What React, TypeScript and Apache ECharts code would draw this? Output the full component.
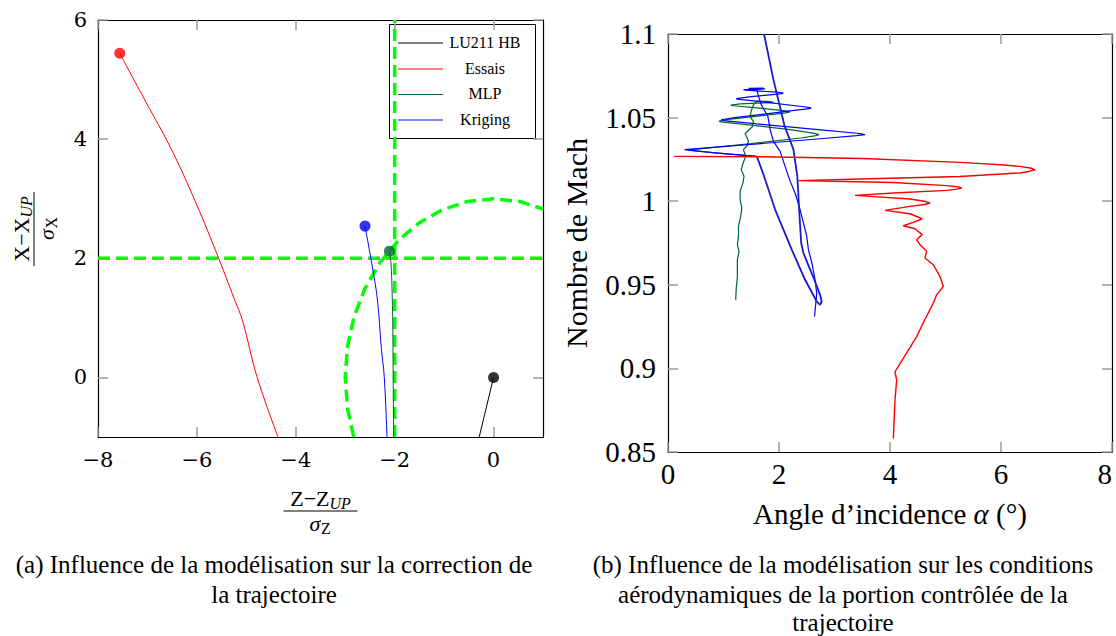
import React, { useEffect, useRef } from 'react';
import * as echarts from 'echarts';

// ---------- Left chart: (Z - Z_UP)/sigma_Z vs (X - X_UP)/sigma_X ----------
const leftXTicks = [-8, -6, -4, -2, 0];
const leftYTicks = [0, 2, 4, 6];
const lu211Traj = [[0, 0], [-0.29, -1]];
const essaisTraj = [[-7.56, 5.44], [-7.03, 4.62], [-6.54, 3.87], [-6.03, 2.95], [-5.56, 2.0], [-5.24, 1.31], [-5.08, 0.96], [-4.78, 0], [-4.36, -1]];
const mlpTraj = [[-2.106, 2.12], [-2.07, 1.87], [-2.04, 1.0], [-2.03, 0], [-2.02, -1]];
const krigingTraj = [[-2.6, 2.54], [-2.44, 1.8], [-2.35, 1.31], [-2.27, 0.5], [-2.21, 0], [-2.155, -1]];
// constraint limits (green dashed)
const limitVertical = [[-2, -1], [-2, 6]];
const limitHorizontal = [[-8, 2], [1, 2]];
const limitCircle = [[-2.828, -1], [-2.954, -0.521], [-3, 0], [-2.954, 0.521], [-2.819, 1.026], [-2.598, 1.5], [-2.298, 1.928], [-1.928, 2.298], [-1.5, 2.598], [-1.026, 2.819], [-0.521, 2.954], [0, 3], [0.521, 2.954], [1, 2.828]];

// ---------- Right chart: angle of attack vs Mach ----------
const rightXTicks = [0, 2, 4, 6, 8];
const rightYTicks = [0.85, 0.9, 0.95, 1, 1.05, 1.1];
const essaisMach = [[0.11, 1.0268], [1.66, 1.0266], [3.5, 1.0255], [5.26, 1.0232], [6.0, 1.0218], [6.34, 1.0208], [6.55, 1.0197], [6.61, 1.0188], [6.5, 1.0178], [6.34, 1.0169], [5.26, 1.0148], [3.46, 1.0133], [2.35, 1.0123], [3.2, 1.0118], [4.06, 1.0112], [5.02, 1.0093], [5.24, 1.0085], [5.29, 1.0079], [5.2, 1.0072], [5.02, 1.0065], [4.06, 1.0049], [3.37, 1.0035], [4.36, 1.0013], [4.65, 0.9998], [4.72, 0.9989], [4.62, 0.998], [4.36, 0.9969], [3.91, 0.9945], [4.36, 0.9925], [4.58, 0.9895], [4.42, 0.9873], [4.24, 0.9853], [4.45, 0.9835], [4.58, 0.98], [4.48, 0.977], [4.54, 0.974], [4.66, 0.97], [4.63, 0.966], [4.78, 0.962], [4.9, 0.955], [4.96, 0.949], [4.84, 0.944], [4.78, 0.939], [4.64, 0.93], [4.48, 0.919], [4.22, 0.905], [4.09, 0.898], [4.12, 0.893], [4.09, 0.881], [4.06, 0.858]];
const mlpMach = [[1.6, 1.0268], [0.9, 1.0288], [0.35, 1.0305], [1.5, 1.0345], [2.4, 1.0378], [2.66, 1.0392], [2.72, 1.0398], [2.64, 1.0406], [2.2, 1.0428], [1.5, 1.0455], [0.95, 1.0474], [0.92, 1.0479], [1.05, 1.0488], [1.7, 1.0512], [2.12, 1.0528], [2.2, 1.0534], [2.12, 1.054], [1.6, 1.0558], [1.18, 1.0571], [1.13, 1.0575], [1.3, 1.0582], [1.85, 1.059], [1.9, 1.0593], [1.8, 1.0597], [1.6, 1.0598], [1.54, 1.0577], [1.5, 1.054], [1.48, 1.0507], [1.54, 1.0475], [1.52, 1.0445], [1.39, 1.0405], [1.45, 1.036], [1.42, 1.033], [1.36, 1.0308], [1.4, 1.0268], [1.35, 1.0225], [1.32, 1.0188], [1.37, 1.015], [1.35, 1.0109], [1.3, 1.006], [1.3, 1.0009], [1.33, 0.996], [1.31, 0.9909], [1.27, 0.985], [1.27, 0.979], [1.25, 0.974], [1.28, 0.97], [1.25, 0.965], [1.25, 0.955], [1.23, 0.948], [1.22, 0.941]];
const krigingMach = [[1.6, 1.0268], [0.8, 1.029], [0.3, 1.0308], [1.5, 1.034], [2.8, 1.0375], [3.4, 1.0392], [3.55, 1.0398], [3.45, 1.0405], [2.8, 1.0425], [1.6, 1.0462], [1.0, 1.0482], [0.96, 1.0487], [1.2, 1.05], [2.2, 1.054], [2.55, 1.0554], [2.58, 1.0558], [2.45, 1.0565], [1.7, 1.0594], [1.25, 1.061], [1.23, 1.0614], [1.5, 1.0625], [2.02, 1.0642], [2.08, 1.0646], [1.95, 1.0652], [1.4, 1.0664], [1.36, 1.0667], [1.6, 1.0669], [1.75, 1.0672], [1.45, 1.0675], [1.72, 1.0677], [1.6, 1.0668], [1.62, 1.064], [1.68, 1.0577], [1.8, 1.0507], [1.84, 1.0428], [1.9, 1.0358], [2.02, 1.0298], [2.11, 1.0208], [2.2, 1.012], [2.29, 1.0049], [2.38, 0.995], [2.44, 0.987], [2.5, 0.979], [2.53, 0.971], [2.6, 0.962], [2.65, 0.953], [2.68, 0.945], [2.66, 0.938], [2.64, 0.931]];
const krigingMachLoop = [[1.73, 1.1], [1.9, 1.0727], [2.1, 1.045], [2.26, 1.031], [2.33, 1.015], [2.37, 0.991], [2.4, 0.975], [2.44, 0.969], [2.55, 0.96], [2.65, 0.952], [2.74, 0.944], [2.77, 0.94], [2.74, 0.938], [2.68, 0.94], [2.47, 0.953], [2.23, 0.971], [1.93, 0.995], [1.72, 1.016], [1.6, 1.0268]];

const legendNames = ['LU211 HB', 'Essais', 'MLP', 'Kriging'];
const C_LU = '#000000';
const C_ESSAIS = '#ff0000';
const C_MLP = '#006633';
const C_KRIG = '#0000ff';
const C_KRIG_DARK = '#1a1acc';
const C_LIMIT = '#00ff00';
const legendColors = [C_LU, C_ESSAIS, C_MLP, C_KRIG];

const SERIF = "'Liberation Serif', serif";
const DSERIF = "'DejaVu Serif', serif";
const TICK_COLOR = '#9a9a9a';

const minusFmt = (v: number) => (v < 0 ? '\u2212' + String(-v) : String(v));

function makeAxis(gridIndex: number, position: string, min: number, max: number, ticks: number[], label: any) {
  return {
    type: 'value',
    gridIndex,
    position,
    min,
    max,
    axisLine: { show: true, onZero: false, lineStyle: { color: '#000', width: 1.2 } },
    axisTick: { show: true, inside: true, length: 10, customValues: ticks, lineStyle: { color: TICK_COLOR, width: 1.5 } },
    axisLabel: label
      ? { show: true, customValues: ticks, color: '#000', fontWeight: 'normal', ...label }
      : { show: false },
    splitLine: { show: false },
  };
}

function fraction(cx: number, cy: number, rotation: number, num: string, numSub: string, numW: number, den: string, denSub: string) {
  const subW = 21.3;
  const start = -(numW + subW) / 2;
  return {
    type: 'group',
    x: cx,
    y: cy,
    rotation,
    children: [
      { type: 'line', shape: { x1: -37, y1: 0, x2: 37, y2: 0 }, style: { stroke: '#000', lineWidth: 1 } },
      { type: 'text', x: start, y: -13, style: { text: num, fontSize: 22, fontFamily: SERIF, fill: '#000', align: 'left', verticalAlign: 'middle' } },
      { type: 'text', x: start + numW, y: -8, style: { text: numSub, fontSize: 16, fontStyle: 'italic', fontFamily: SERIF, fill: '#000', align: 'left', verticalAlign: 'middle' } },
      { type: 'text', x: -11, y: 12, style: { text: den, fontSize: 22, fontStyle: 'italic', fontFamily: SERIF, fill: '#000', align: 'left', verticalAlign: 'middle' } },
      { type: 'text', x: 0.5, y: 17, style: { text: denSub, fontSize: 16, fontFamily: SERIF, fill: '#000', align: 'left', verticalAlign: 'middle' } },
    ],
  };
}

function lineSeries(name: string, data: number[][], color: string, width: number, xi: number, yi: number, z: number, type: any = 'solid', smooth: any = false) {
  return {
    type: 'line',
    name,
    xAxisIndex: xi,
    yAxisIndex: yi,
    data,
    symbol: 'none',
    showSymbol: false,
    silent: true,
    smooth,
    z,
    lineStyle: { color, width, type },
  };
}

function dotSeries(name: string, point: number[], color: string) {
  return {
    type: 'scatter',
    name,
    xAxisIndex: 0,
    yAxisIndex: 0,
    data: [point],
    symbol: 'circle',
    symbolSize: 11,
    silent: true,
    z: 5,
    itemStyle: { color },
  };
}

const legendX = 389.5;
const legendY = 24.5;
const legendRowY = [43, 69, 94.5, 120];

const legendGraphic = {
  type: 'group',
  z: 100,
  children: [
    { type: 'rect', shape: { x: legendX, y: legendY, width: 146, height: 114 }, style: { fill: '#fff', stroke: '#000', lineWidth: 1 } },
    ...legendNames.flatMap((n, i) => [
      { type: 'line', shape: { x1: 398, y1: legendRowY[i], x2: 443, y2: legendRowY[i] }, style: { stroke: legendColors[i], lineWidth: 1.2 } },
      { type: 'text', x: 485, y: legendRowY[i] - 1, style: { text: n, fontSize: 16, fontFamily: SERIF, fill: '#000', align: 'center', verticalAlign: 'middle' } },
    ]),
  ],
};

const captionStyle = { fontSize: 25, fontFamily: SERIF, fill: '#000', align: 'center', verticalAlign: 'middle' };
const captions = [
  { text: '(a) Influence de la modélisation sur la correction de', x: 274, y: 564 },
  { text: 'la trajectoire', x: 274, y: 594 },
  { text: '(b) Influence de la modélisation sur les conditions', x: 843, y: 564 },
  { text: 'aérodynamiques de la portion contrôlée de la', x: 843, y: 594 },
  { text: 'trajectoire', x: 843, y: 622 },
];

const option: any = {
  animation: false,
  backgroundColor: '#fff',
  textStyle: { fontFamily: SERIF },
  grid: [
    { left: 98, top: 20, width: 445, height: 417, outerBoundsMode: 'none', containLabel: false },
    { left: 668, top: 34, width: 444, height: 418, outerBoundsMode: 'none', containLabel: false },
  ],
  xAxis: [
    makeAxis(0, 'bottom', -8, 1, leftXTicks, { fontFamily: DSERIF, fontSize: 21, margin: 12, formatter: minusFmt }),
    makeAxis(0, 'top', -8, 1, leftXTicks, null),
    makeAxis(1, 'bottom', 0, 8, rightXTicks, { fontFamily: SERIF, fontSize: 29, margin: 7, alignMaxLabel: 'right', formatter: (v: number) => String(v) }),
    makeAxis(1, 'top', 0, 8, rightXTicks, null),
  ],
  yAxis: [
    makeAxis(0, 'left', -1, 6, leftYTicks, { fontFamily: DSERIF, fontSize: 21, margin: 11, formatter: minusFmt }),
    makeAxis(0, 'right', -1, 6, leftYTicks, null),
    makeAxis(1, 'left', 0.85, 1.1, rightYTicks, { fontFamily: SERIF, fontSize: 29, margin: 12, formatter: (v: number) => String(v) }),
    makeAxis(1, 'right', 0.85, 1.1, rightYTicks, null),
  ],
  series: [
    // left chart limits
    lineSeries('limitVertical', limitVertical, C_LIMIT, 3.5, 0, 0, 1, [12, 6]),
    lineSeries('limitHorizontal', limitHorizontal, C_LIMIT, 3.5, 0, 0, 1, [12, 6]),
    lineSeries('limitCircle', limitCircle, C_LIMIT, 3.5, 0, 0, 1, [12, 6]),
    // left chart trajectories
    lineSeries(legendNames[0], lu211Traj, C_LU, 1, 0, 0, 3),
    lineSeries(legendNames[1], essaisTraj, C_ESSAIS, 1, 0, 0, 3, 'solid', 0.4),
    lineSeries(legendNames[2], mlpTraj, C_MLP, 1, 0, 0, 3, 'solid', 0.3),
    lineSeries(legendNames[3], krigingTraj, C_KRIG, 1, 0, 0, 3, 'solid', 0.4),
    dotSeries('LU211 HB start', lu211Traj[0], C_LU),
    dotSeries('Essais start', essaisTraj[0], C_ESSAIS),
    dotSeries('MLP start', mlpTraj[0], C_MLP),
    dotSeries('Kriging start', krigingTraj[0], C_KRIG),
    // right chart
    lineSeries('MLP Mach', mlpMach, C_MLP, 1.2, 2, 2, 2),
    lineSeries('Kriging Mach', krigingMach, C_KRIG, 1.2, 2, 2, 3),
    lineSeries('Kriging Mach loop', krigingMachLoop, C_KRIG_DARK, 1.8, 2, 2, 3),
    lineSeries('Essais Mach', essaisMach, C_ESSAIS, 1.4, 2, 2, 4),
  ],
  graphic: [
    legendGraphic,
    fraction(320.5, 511, 0, 'Z\u2212Z', 'UP', 39.3, '\u03c3', 'Z'),
    fraction(34, 229, Math.PI / 2, 'X\u2212X', 'UP', 44.2, '\u03c3', 'X'),
    {
      type: 'text',
      x: 890,
      y: 514,
      style: {
        text: '{a|Angle d\u2019incidence }{b|\u03b1}{a| (\u00b0)}',
        rich: {
          a: { fontSize: 29, fontFamily: SERIF, fill: '#000' },
          b: { fontSize: 29, fontFamily: SERIF, fontStyle: 'italic', fill: '#000' },
        },
        align: 'center',
        verticalAlign: 'middle',
      },
    },
    {
      type: 'text',
      x: 576,
      y: 243,
      rotation: Math.PI / 2,
      style: { text: 'Nombre de Mach', fontSize: 30, fontFamily: SERIF, fill: '#000', align: 'center', verticalAlign: 'middle' },
    },
    ...captions.map((c) => ({ type: 'text', x: c.x, y: c.y, style: { ...captionStyle, text: c.text } })),
  ],
};

export default function App() {
  const ref = useRef<HTMLDivElement>(null);
  useEffect(() => {
    if (!ref.current) return;
    const chart = echarts.init(ref.current, null, { renderer: 'svg' });
    chart.setOption(option);
    return () => chart.dispose();
  }, []);
  return (
    <div
      ref={ref}
      style={{ position: 'fixed', left: 0, top: 0, width: 1116, height: 636, background: '#fff' }}
    />
  );
}
